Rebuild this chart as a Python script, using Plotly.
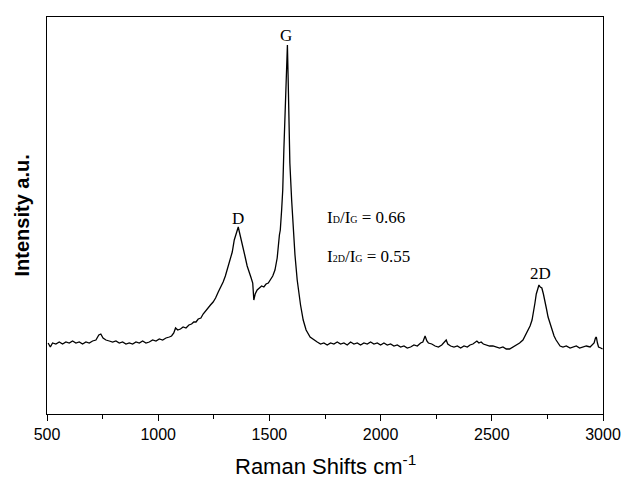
import plotly.graph_objects as go

# Raman spectrum (x: Raman shift cm-1, y: intensity a.u.)
raman_shift = [
    505, 515, 525, 540, 555, 570, 585, 600, 615, 630, 645, 660, 675, 690, 705, 720,
    733, 742, 752, 765, 780, 795, 810, 825, 840, 855, 870, 885, 900, 915, 930, 945,
    960, 975, 990, 1005, 1020, 1035, 1050, 1060, 1070, 1078, 1088, 1100, 1112, 1125,
    1138, 1150, 1160, 1170, 1180, 1192, 1202, 1212, 1222, 1235, 1247, 1258, 1270,
    1282, 1292, 1302, 1312, 1322, 1333, 1342, 1350, 1355, 1360, 1365, 1372, 1380,
    1390, 1400, 1410, 1418, 1425, 1430, 1436, 1445, 1455, 1465, 1475, 1485, 1495,
    1505, 1515, 1525, 1535, 1545, 1549, 1555, 1560, 1565, 1570, 1574, 1578, 1581,
    1584, 1586, 1592, 1600, 1608, 1615, 1625, 1630, 1640, 1652, 1665, 1683, 1700,
    1715, 1730, 1745, 1760, 1775, 1790, 1805, 1820, 1835, 1850, 1865, 1880, 1895,
    1910, 1925, 1940, 1955, 1970, 1985, 2000, 2015, 2030, 2045, 2060, 2075, 2090,
    2105, 2120, 2135, 2150, 2165, 2180, 2190, 2200, 2208, 2215, 2230, 2245, 2260,
    2275, 2288, 2295, 2302, 2315, 2330, 2345, 2360, 2375, 2390, 2402, 2415, 2425,
    2433, 2442, 2452, 2462, 2475, 2490, 2505, 2520, 2535, 2550, 2565, 2580, 2595,
    2605, 2615, 2625, 2640, 2650, 2662, 2672, 2681, 2688, 2694, 2700, 2706, 2712,
    2718, 2725, 2732, 2739, 2746, 2753, 2762, 2771, 2780, 2789, 2798, 2807, 2820,
    2835, 2852, 2865, 2880, 2895, 2910, 2925, 2942, 2952, 2960, 2966, 2970, 2975,
    2980, 2990, 2998,
]
intensity = [
    71, 67, 71, 70, 72, 70, 72, 71, 73, 71, 72, 70, 72, 71, 73, 74,
    79, 80, 76, 74, 73, 72, 73, 71, 72, 70, 71, 70, 72, 71, 73, 71,
    72, 74, 73, 75, 74, 76, 77, 78, 81, 86, 84, 85, 87, 86,
    89, 90, 92, 92, 95, 96, 100, 103, 106, 109, 112, 116, 122,
    127, 132, 138, 146, 153, 162, 174, 180, 183, 187, 182, 176, 167,
    158, 148, 140, 136, 131, 114, 120, 124, 126, 128, 127, 130, 131,
    134, 138, 144, 156, 179, 184, 204, 224, 264, 304, 334, 359, 369,
    339, 317, 251, 214, 184, 159, 134, 124, 109, 94, 84, 77, 74,
    72, 70, 71, 69, 71, 70, 72, 70, 71, 69, 72, 70, 71,
    69, 71, 70, 72, 70, 71, 69, 71, 69, 70, 68, 69, 67,
    68, 66, 67, 69, 68, 71, 72, 78, 73, 71, 70, 68, 67,
    69, 72, 74, 70, 68, 67, 68, 66, 68, 67, 69, 70, 72,
    73, 71, 72, 70, 69, 68, 68, 67, 66, 67, 65, 65, 67,
    68, 69, 71, 74, 78, 84, 88, 94, 102, 111, 120, 125, 129,
    127, 126, 120, 114, 105, 97, 90, 84, 78, 74, 71, 68, 67,
    68, 66, 67, 68, 66, 67, 68, 67, 69, 71, 76, 77, 71,
    67, 66, 65,
]

x_ticks = [500, 1000, 1500, 2000, 2500, 3000]

peak_labels = ["G", "D", "2D"]
peak_label_x = [1576, 1360, 2717]
peak_label_y = [379, 196, 141]

ratio_texts = [
    "I<span style='font-size:10px'>D</span>/I<span style='font-size:10px'>G</span> = 0.66",
    "I<span style='font-size:10px'>2D</span>/I<span style='font-size:10px'>G</span> = 0.55",
]
ratio_x = [1751, 1751]
ratio_y = [197, 158]

fig = go.Figure()
fig.add_trace(go.Scatter(
    x=raman_shift, y=intensity, mode="lines",
    line=dict(color="black", width=1.3), showlegend=False, hoverinfo="skip",
))

serif = "Liberation Serif, Times New Roman, serif"
for t, xx, yy in zip(peak_labels, peak_label_x, peak_label_y):
    fig.add_annotation(x=xx, y=yy, xref="x", yref="y", text=t, showarrow=False,
                       font=dict(family=serif, size=17, color="black"))
for t, xx, yy in zip(ratio_texts, ratio_x, ratio_y):
    fig.add_annotation(x=xx, y=yy, xref="x", yref="y", text=t, showarrow=False,
                       xanchor="left", font=dict(family=serif, size=17, color="black"))

# axis titles as paper annotations (fixed positions)
fig.add_annotation(x=0.5, y=-0.128, xref="paper", yref="paper", yanchor="middle",
                   text="Raman Shifts cm<sup>-1</sup>", showarrow=False,
                   font=dict(size=22, color="black"))
fig.add_annotation(x=-0.045, y=0.5, xref="paper", yref="paper", xanchor="center",
                   text="<b>Intensity a.u.</b>", textangle=-90, showarrow=False,
                   font=dict(size=20, color="black"))

fig.update_layout(
    width=622, height=478,
    margin=dict(l=47, r=19, t=17, b=64),
    paper_bgcolor="white", plot_bgcolor="white",
    font=dict(family="Liberation Sans, Arial, sans-serif", color="black"),
    xaxis=dict(
        range=[500, 3000], tickvals=x_ticks, ticks="outside", ticklen=6,
        tickwidth=1, tickcolor="black",
        minor=dict(dtick=250, tick0=500, ticks="outside", ticklen=4, tickcolor="black"),
        showline=True, linecolor="black", linewidth=1.2, mirror=True,
        showgrid=False, zeroline=False, automargin=False,
        tickfont=dict(size=16, color="black"),
    ),
    yaxis=dict(
        range=[0, 397], showticklabels=False, ticks="",
        showline=True, linecolor="black", linewidth=1.2, mirror=True,
        showgrid=False, zeroline=False, automargin=False,
    ),
)

fig.write_html("out.html", config={"displayModeBar": False},
               post_script=["document.body.style.margin='0px';"])
